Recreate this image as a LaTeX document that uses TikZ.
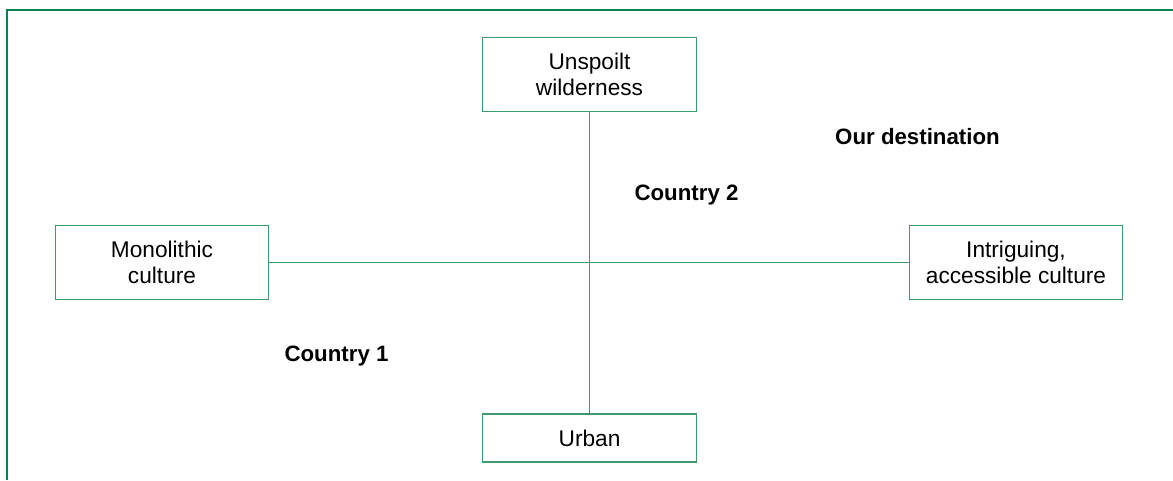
\documentclass[tikz,border=0pt]{standalone}
\usepackage{fontspec}
\setmainfont{Liberation Sans}
\definecolor{framegreen}{HTML}{0B7F4E}
\definecolor{boxgreen}{HTML}{3E9A6C}
\begin{document}
\begin{tikzpicture}[x=0.75pt,y=-0.75pt,
  axisbox/.style={draw=boxgreen,line width=0.9pt,fill=white,align=center,
    minimum width=160pt,inner sep=0pt,font=\fontsize{17}{20}\selectfont},
  tallbox/.style={axisbox,minimum height=56pt},
  flatbox/.style={axisbox,minimum height=36pt},
  axis/.style={draw=boxgreen,line width=0.9pt},
  tag/.style={font=\fontsize{16.7}{20}\selectfont\bfseries}]
\useasboundingbox (0,0) rectangle (1173,480);
% frame on the top and left edges only
\draw[framegreen,line width=1.5pt] (6.5,480) -- (6.5,9.5) -- (1173,9.5);
% axis end boxes
\node[tallbox] (wild) at (589.5,74.5) {Unspoilt\\wilderness};
\node[tallbox] (mono) at (162,262.5) {Monolithic\\culture};
\node[tallbox] (intr) at (1016,262.5) {Intriguing,\\accessible culture};
\node[flatbox] (urban) at (589.5,438) {Urban};
% axes
\draw[axis] (wild.south) -- (urban.north);
\draw[axis] (mono.east) -- (intr.west);
% positions
\node[tag] (dest) at (917.5,137) {Our destination};
\node[tag] (c2) at (686.5,195) {Country 2};
\node[tag] (c1) at (336.5,356) {Country 1};
\end{tikzpicture}
\end{document}
